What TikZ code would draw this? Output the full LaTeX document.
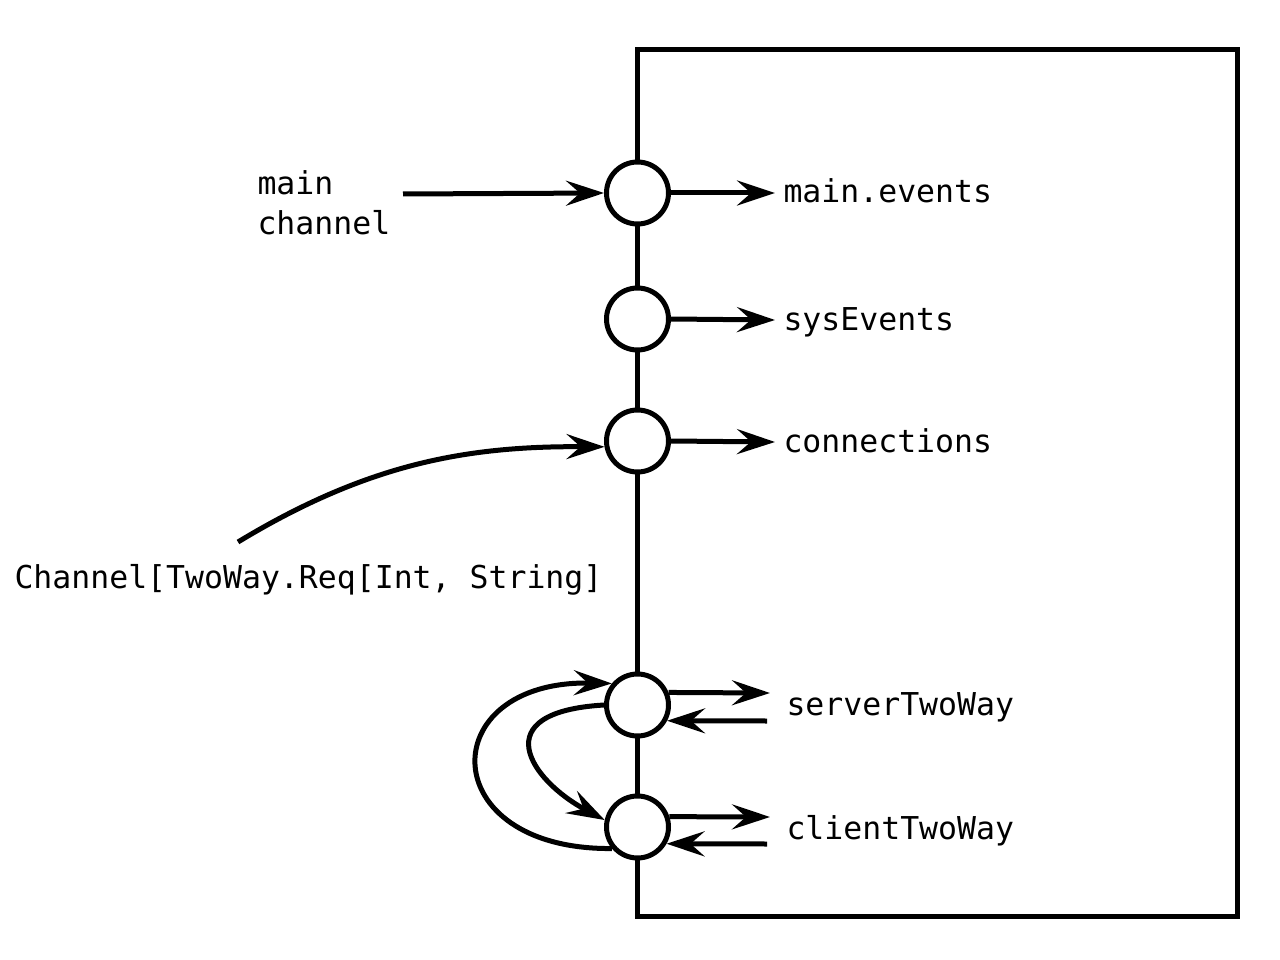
\documentclass[tikz,border=0pt]{standalone}
\usepackage{fontspec}
\newfontfamily\codefont{DejaVu Sans Mono}
\usetikzlibrary{arrows.meta}
\begin{document}
\begin{tikzpicture}[x=1pt,y=-1pt,
  every node/.style={font=\codefont\fontsize{31.5}{40}\selectfont, inner sep=0pt},
  port/.style={circle, draw, fill=white, line width=5pt, minimum size=62pt, inner sep=0pt},
  arr/.style={line width=5pt, -{Stealth[length=38pt,width=25pt,inset=14pt]}},
  lbl/.style={anchor=base west},
  line width=5pt]
\useasboundingbox (0,0) rectangle (1280,960);
% box
\node[draw, line width=5pt, minimum width=600pt, minimum height=866pt, anchor=north west, outer sep=0pt] (box) at (637.5,50) {};
% ports
\node[port] (c1) at (637.5,193) {};
\node[port] (c2) at (637.5,319) {};
\node[port] (c3) at (637.5,441) {};
\node[port] (s) at (637.5,705) {};
\node[port] (cl) at (637.5,827) {};
% labels
\node[lbl] (mainev) at (781,203) {main.events};
\node[lbl] (sysev) at (781,330) {sysEvents};
\node[lbl] (conn) at (781,452) {connections};
\node[lbl] (srv) at (784,715) {serverTwoWay};
\node[lbl] (cli) at (784,839) {clientTwoWay};
\node[lbl] (mc1) at (255,195) {main};
\node[lbl] (mc2) at (255,235) {channel};
\node[lbl] (chan) at (12,588) {Channel[TwoWay.Req[Int, String]};
% free ends
\coordinate (mcstart) at (403,194);
\coordinate (cstart) at (238,542);
\coordinate (t1) at (775,193);
\coordinate (t2) at (775,320);
\coordinate (t3) at (775,442);
\coordinate (sout) at (770,693);
\coordinate (sin) at (767,721);
\coordinate (clout) at (770,817);
\coordinate (clin) at (767,844);
% connectors
\draw[arr] (mcstart) -- (c1.west);
\draw[arr] (cstart) .. controls (370,462) and (470,446) .. (c3.190);
\draw[arr] (c1.east) -- (t1);
\draw[arr] (c2.east) -- (t2);
\draw[arr] (c3.east) -- (t3);
\draw[arr] (s.22) -- (sout);
\draw[arr] (sin) -- (s.-28);
\draw[arr] (cl.18) -- (clout);
\draw[arr] (clin) -- (cl.-30);
\draw[arr] (cl.220) .. controls (433,850) and (433,680) .. (s.140);
\draw[arr] (s.180) .. controls (484,712) and (530,780) .. (cl.168);
\end{tikzpicture}
\end{document}
